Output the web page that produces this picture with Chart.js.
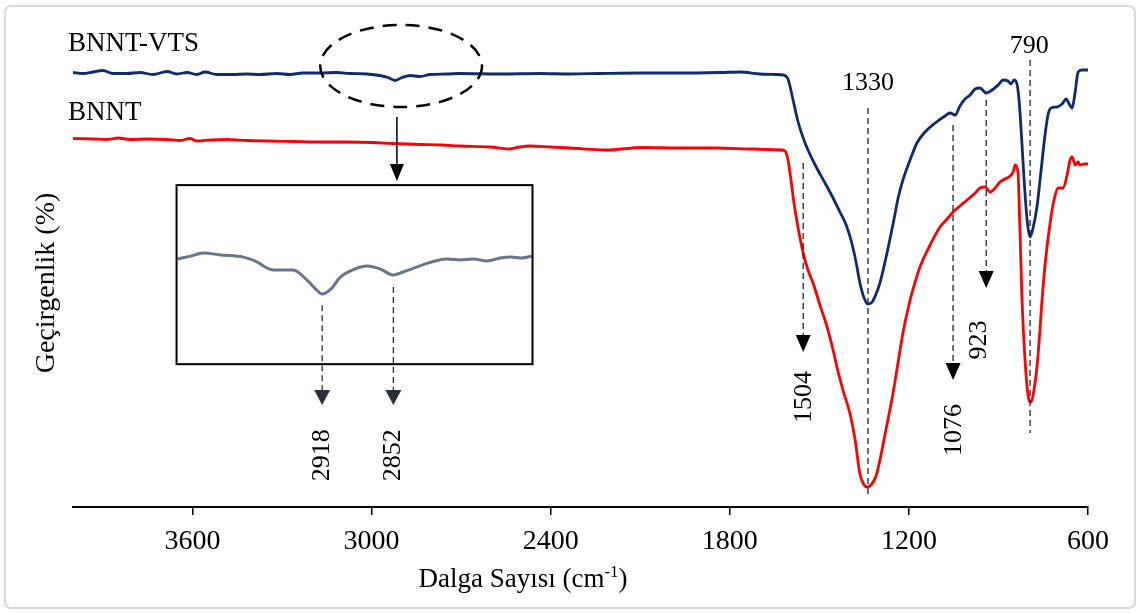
<!DOCTYPE html>
<html>
<head>
<meta charset="utf-8">
<script src="https://cdn.jsdelivr.net/npm/chart.js@4.4.0/dist/chart.umd.min.js"></script>
<style>
  html, body { margin: 0; padding: 0; background: #fff; }
  canvas { display: block; }
</style>
</head>
<body>
<canvas id="grafico" width="1140" height="613"></canvas>
<script>
// BNNT-VTS (lacivert)
const vtsDalga = [4000, 3967, 3933, 3900, 3866, 3819, 3776, 3732, 3685, 3652, 3618, 3585, 3558, 3518, 3464, 3417, 3374, 3317, 3273, 3230, 3173, 3116, 3072, 3015, 2972, 2945, 2921, 2898, 2871, 2838, 2804, 2747, 2704, 2570, 2436, 2335, 2235, 2101, 1967, 1833, 1766, 1699, 1648, 1621, 1605, 1588, 1571, 1554, 1538, 1514, 1481, 1454, 1431, 1410, 1394, 1377, 1364, 1350, 1337, 1323, 1310, 1297, 1277, 1253, 1236, 1220, 1196, 1173, 1146, 1112, 1079, 1062, 1045, 1029, 1012, 995, 978, 962, 941, 921, 901, 884, 868, 858, 848, 838, 831, 824, 814, 804, 794, 784, 771, 757, 744, 734, 724, 704, 687, 673, 663, 653, 643, 633, 620, 600];
const vtsGecirgenlik = [86.9, 86.7, 87.0, 87.3, 86.7, 86.7, 86.9, 86.5, 87.1, 86.6, 86.9, 86.5, 87.0, 86.5, 86.5, 86.6, 86.5, 86.7, 86.5, 86.8, 86.8, 86.9, 86.7, 86.6, 86.3, 85.9, 85.3, 85.9, 86.3, 86.1, 86.5, 86.6, 86.7, 86.6, 86.7, 86.6, 86.7, 86.8, 86.8, 86.9, 87.0, 86.6, 86.5, 86.4, 85.6, 81.4, 77.0, 73.8, 71.4, 68.4, 64.8, 61.8, 59.0, 56.4, 53.4, 49.0, 44.8, 41.8, 40.6, 41.0, 42.6, 44.8, 49.8, 56.6, 61.8, 65.4, 69.4, 72.8, 75.0, 76.8, 78.2, 78.8, 78.4, 80.2, 81.6, 82.4, 83.6, 83.8, 82.8, 83.4, 84.4, 85.4, 85.2, 84.6, 85.4, 84.6, 81.4, 75.4, 65.4, 57.4, 54.0, 55.8, 60.0, 67.4, 74.4, 78.4, 79.8, 80.0, 80.6, 81.6, 80.6, 79.8, 83.0, 87.0, 87.4, 87.4];

// BNNT (kırmızı)
const bnntDalga = [4000, 3933, 3886, 3849, 3809, 3752, 3685, 3642, 3608, 3585, 3541, 3484, 3417, 3350, 3263, 3173, 3082, 2995, 2928, 2838, 2761, 2704, 2603, 2539, 2503, 2469, 2402, 2335, 2214, 2091, 1970, 1849, 1725, 1628, 1615, 1605, 1595, 1585, 1571, 1554, 1538, 1521, 1498, 1474, 1454, 1441, 1421, 1397, 1380, 1364, 1350, 1340, 1327, 1310, 1297, 1277, 1253, 1236, 1220, 1196, 1179, 1163, 1129, 1096, 1072, 1052, 1029, 1005, 978, 962, 945, 928, 911, 895, 878, 861, 851, 844, 838, 834, 828, 821, 811, 801, 791, 781, 771, 761, 754, 744, 727, 714, 700, 684, 670, 660, 653, 643, 633, 627, 613, 600];
const bnntGecirgenlik = [73.7, 73.6, 73.5, 73.8, 73.5, 73.6, 73.5, 73.3, 73.7, 73.2, 73.4, 73.5, 73.3, 73.2, 73.1, 73.0, 73.0, 72.9, 72.7, 72.5, 72.4, 72.2, 72.0, 71.6, 72.0, 72.2, 72.0, 71.8, 71.4, 71.9, 71.8, 71.8, 71.6, 71.4, 71.2, 69.4, 65.4, 60.8, 55.8, 50.8, 47.4, 44.8, 40.4, 36.0, 31.4, 28.0, 23.4, 18.6, 13.4, 6.6, 4.4, 4.0, 4.4, 6.2, 9.4, 15.4, 22.8, 29.0, 34.8, 41.4, 45.0, 48.0, 52.4, 56.0, 57.6, 59.0, 60.2, 61.4, 62.8, 63.8, 64.0, 63.0, 63.8, 65.0, 65.6, 66.2, 67.0, 68.4, 67.8, 66.4, 55.4, 41.4, 29.4, 22.4, 21.0, 23.4, 28.0, 35.4, 41.4, 48.4, 56.8, 61.4, 63.8, 63.8, 66.4, 69.4, 70.0, 68.4, 69.0, 68.4, 68.6, 68.6];

// Büyütülmüş bölge (2918 / 2852)
const insetDalga = [3052, 3040, 3028, 3012, 2991, 2978, 2971, 2963, 2945, 2932, 2924, 2918, 2910, 2901, 2890, 2876, 2864, 2852, 2843, 2833, 2820, 2802, 2790, 2778, 2765, 2753, 2743, 2734, 2724];
const insetGecirgenlik = [86.76, 86.88, 87.01, 86.93, 86.84, 86.63, 86.43, 86.30, 86.30, 85.88, 85.51, 85.30, 85.51, 86.01, 86.30, 86.47, 86.34, 86.09, 86.22, 86.38, 86.59, 86.76, 86.72, 86.76, 86.68, 86.80, 86.84, 86.80, 86.88];

const xTicks = [3600, 3000, 2400, 1800, 1200, 600];
const seriesLabels = ['BNNT-VTS', 'BNNT'];
const pikEtiketleri = ['1504', '1330', '1076', '923', '790'];
const pikDalga = [1554, 1337, 1052, 941, 794];
const insetEtiketleri = ['2918', '2852'];
const insetPikDalga = [2918, 2852];

const FONT = '"Liberation Serif", "Times New Roman", serif';

const toXY = (xs, ys) => xs.map((x, i) => ({ x: x, y: ys[i] }));

function okUcu(ctx, x, y, w, h, color) {
  ctx.save();
  ctx.setLineDash([]);
  ctx.fillStyle = color;
  ctx.beginPath();
  ctx.moveTo(x - w / 2, y - h);
  ctx.lineTo(x + w / 2, y - h);
  ctx.lineTo(x, y);
  ctx.closePath();
  ctx.fill();
  ctx.restore();
}

function kesikCizgi(ctx, x, y1, y2, color) {
  ctx.save();
  ctx.strokeStyle = color;
  ctx.lineWidth = 1.3;
  ctx.setLineDash([6, 4]);
  ctx.beginPath();
  ctx.moveTo(x, y1);
  ctx.lineTo(x, y2);
  ctx.stroke();
  ctx.restore();
}

function dikYazi(ctx, text, x, y, size) {
  ctx.save();
  ctx.translate(x, y);
  ctx.rotate(-Math.PI / 2);
  ctx.font = size + 'px ' + FONT;
  ctx.fillStyle = '#000';
  ctx.textAlign = 'center';
  ctx.textBaseline = 'middle';
  ctx.fillText(text, 0, 0);
  ctx.restore();
}

const cizimler = {
  id: 'cizimler',
  beforeDraw(chart) {
    const ctx = chart.ctx;
    ctx.save();
    ctx.fillStyle = '#fff';
    ctx.fillRect(0, 0, chart.width, chart.height);
    ctx.strokeStyle = '#d9d9d9';
    ctx.lineWidth = 2;
    ctx.beginPath();
    ctx.roundRect(5, 6, 1130, 602, 6);
    ctx.stroke();
    ctx.restore();
  },
  afterDatasetsDraw(chart) {
    const ctx = chart.ctx;
    const { x, y, xi, yi } = chart.scales;
    const xp = v => x.getPixelForValue(v);
    const yp = v => y.getPixelForValue(v);

    // seri adları
    ctx.save();
    ctx.font = '27px ' + FONT;
    ctx.fillStyle = '#000';
    ctx.textBaseline = 'alphabetic';
    ctx.fillText(seriesLabels[0], 68, 51);
    ctx.fillText(seriesLabels[1], 68, 120);
    ctx.restore();

    // pik çizgileri ve etiket yerleri
    const pikAyar = [
      { from: 68.8, to: 31.0, ok: true, dik: true, lx: 1551, ly: 22.0 },
      { from: 79.8, to: 2.0, ok: false, dik: false, lx: 1337, ly: 84.8 },
      { from: 76.4, to: 25.4, ok: true, dik: true, lx: 1049, ly: 15.4 },
      { from: 81.4, to: 43.8, ok: true, dik: true, lx: 965, ly: 33.4 },
      { from: 89.4, to: 14.8, ok: false, dik: false, lx: 797, ly: 92.2 }
    ];
    pikDalga.forEach((wn, i) => {
      const a = pikAyar[i];
      const px = xp(wn);
      const y1 = yp(a.from), y2 = yp(a.to);
      kesikCizgi(ctx, px, y1, a.ok ? y2 - 14 : y2, '#222');
      if (a.ok) okUcu(ctx, px, y2, 15, 17, '#000');
      if (a.dik) {
        dikYazi(ctx, pikEtiketleri[i], xp(a.lx), yp(a.ly), 26);
      } else {
        ctx.save();
        ctx.font = '26px ' + FONT;
        ctx.fillStyle = '#000';
        ctx.textAlign = 'center';
        ctx.textBaseline = 'middle';
        ctx.fillText(pikEtiketleri[i], xp(a.lx), yp(a.ly));
        ctx.restore();
      }
    });

    // kesikli elips
    ctx.save();
    ctx.strokeStyle = '#000';
    ctx.lineWidth = 2.5;
    ctx.setLineDash([14, 9]);
    const cx = xp(2901), cy = yp(88.2);
    ctx.beginPath();
    ctx.ellipse(cx, cy, cx - xp(3172), cy - yp(96.4), 0, 0, Math.PI * 2);
    ctx.stroke();
    ctx.restore();

    // elipsten kutuya ok
    const ax = xp(2915);
    ctx.save();
    ctx.strokeStyle = '#000';
    ctx.lineWidth = 1.5;
    ctx.beginPath();
    ctx.moveTo(ax, yp(78.0));
    ctx.lineTo(ax, yp(65.2) - 15);
    ctx.stroke();
    ctx.restore();
    okUcu(ctx, ax, yp(65.2), 14, 17, '#000');

    // büyütme kutusu
    const bx1 = xi.getPixelForValue(3053), bx2 = xi.getPixelForValue(2723);
    const by1 = yi.getPixelForValue(89.84), by2 = yi.getPixelForValue(82.38);
    ctx.save();
    ctx.strokeStyle = '#000';
    ctx.lineWidth = 2;
    ctx.strokeRect(bx1, by1, bx2 - bx1, by2 - by1);
    ctx.restore();

    const insetAyar = [{ from: 84.84 }, { from: 85.59 }];
    insetPikDalga.forEach((wn, i) => {
      const px = xi.getPixelForValue(wn);
      const tip = yi.getPixelForValue(80.68);
      kesikCizgi(ctx, px, yi.getPixelForValue(insetAyar[i].from), tip - 13, '#2a2f38');
      okUcu(ctx, px, tip, 16, 15, '#2a2f38');
      dikYazi(ctx, insetEtiketleri[i], px, yi.getPixelForValue(78.59), 26);
    });

    // eksen başlıkları
    dikYazi(ctx, 'Geçirgenlik (%)', 47, 283, 28);

    ctx.save();
    ctx.fillStyle = '#000';
    ctx.textBaseline = 'alphabetic';
    const ana = '27px ' + FONT, ust = '17px ' + FONT;
    const t1 = 'Dalga Sayısı (cm', t2 = '-1', t3 = ')';
    ctx.font = ana;
    const w1 = ctx.measureText(t1).width, w3 = ctx.measureText(t3).width;
    ctx.font = ust;
    const w2 = ctx.measureText(t2).width;
    let sx = 523 - (w1 + w2 + w3) / 2;
    ctx.font = ana;
    ctx.fillText(t1, sx, 587);
    ctx.font = ust;
    ctx.fillText(t2, sx + w1, 577);
    ctx.font = ana;
    ctx.fillText(t3, sx + w1 + w2, 587);
    ctx.restore();
  }
};

new Chart(document.getElementById('grafico'), {
  type: 'line',
  data: {
    datasets: [
      {
        label: seriesLabels[0],
        data: toXY(vtsDalga, vtsGecirgenlik),
        borderColor: '#0f2b6b',
        borderWidth: 2.8,
        pointRadius: 0,
        cubicInterpolationMode: 'monotone',
        xAxisID: 'x',
        yAxisID: 'y'
      },
      {
        label: seriesLabels[1],
        data: toXY(bnntDalga, bnntGecirgenlik),
        borderColor: '#ff0000',
        borderWidth: 2.8,
        pointRadius: 0,
        cubicInterpolationMode: 'monotone',
        xAxisID: 'x',
        yAxisID: 'y'
      },
      {
        label: 'inset',
        data: toXY(insetDalga, insetGecirgenlik),
        borderColor: 'rgba(88,102,130,0.9)',
        borderWidth: 3,
        pointRadius: 0,
        cubicInterpolationMode: 'monotone',
        xAxisID: 'xi',
        yAxisID: 'yi'
      }
    ]
  },
  options: {
    responsive: false,
    animation: false,
    layout: { padding: { left: 73, right: 52, top: 7, bottom: 0 } },
    plugins: { legend: { display: false }, tooltip: { enabled: false } },
    scales: {
      x: {
        type: 'linear',
        position: 'bottom',
        reverse: true,
        min: 600,
        max: 4000,
        afterBuildTicks: s => { s.ticks = xTicks.map(v => ({ value: v })); },
        afterFit: s => { s.height = 106; },
        grid: { drawOnChartArea: false, drawTicks: true, tickLength: 8, color: '#000', lineWidth: 1.5 },
        border: { display: true, color: '#000', width: 2 },
        ticks: {
          font: { family: FONT, size: 28 },
          color: '#000',
          padding: 10,
          maxRotation: 0,
          autoSkip: false,
          callback: v => String(v)
        }
      },
      y: { type: 'linear', display: false, min: 0, max: 100 },
      xi: { type: 'linear', axis: 'x', display: false, reverse: true, min: 2208, max: 3149 },
      yi: { type: 'linear', axis: 'y', display: false, min: 76.43, max: 97.26 }
    }
  },
  plugins: [cizimler]
});
</script>
</body>
</html>
